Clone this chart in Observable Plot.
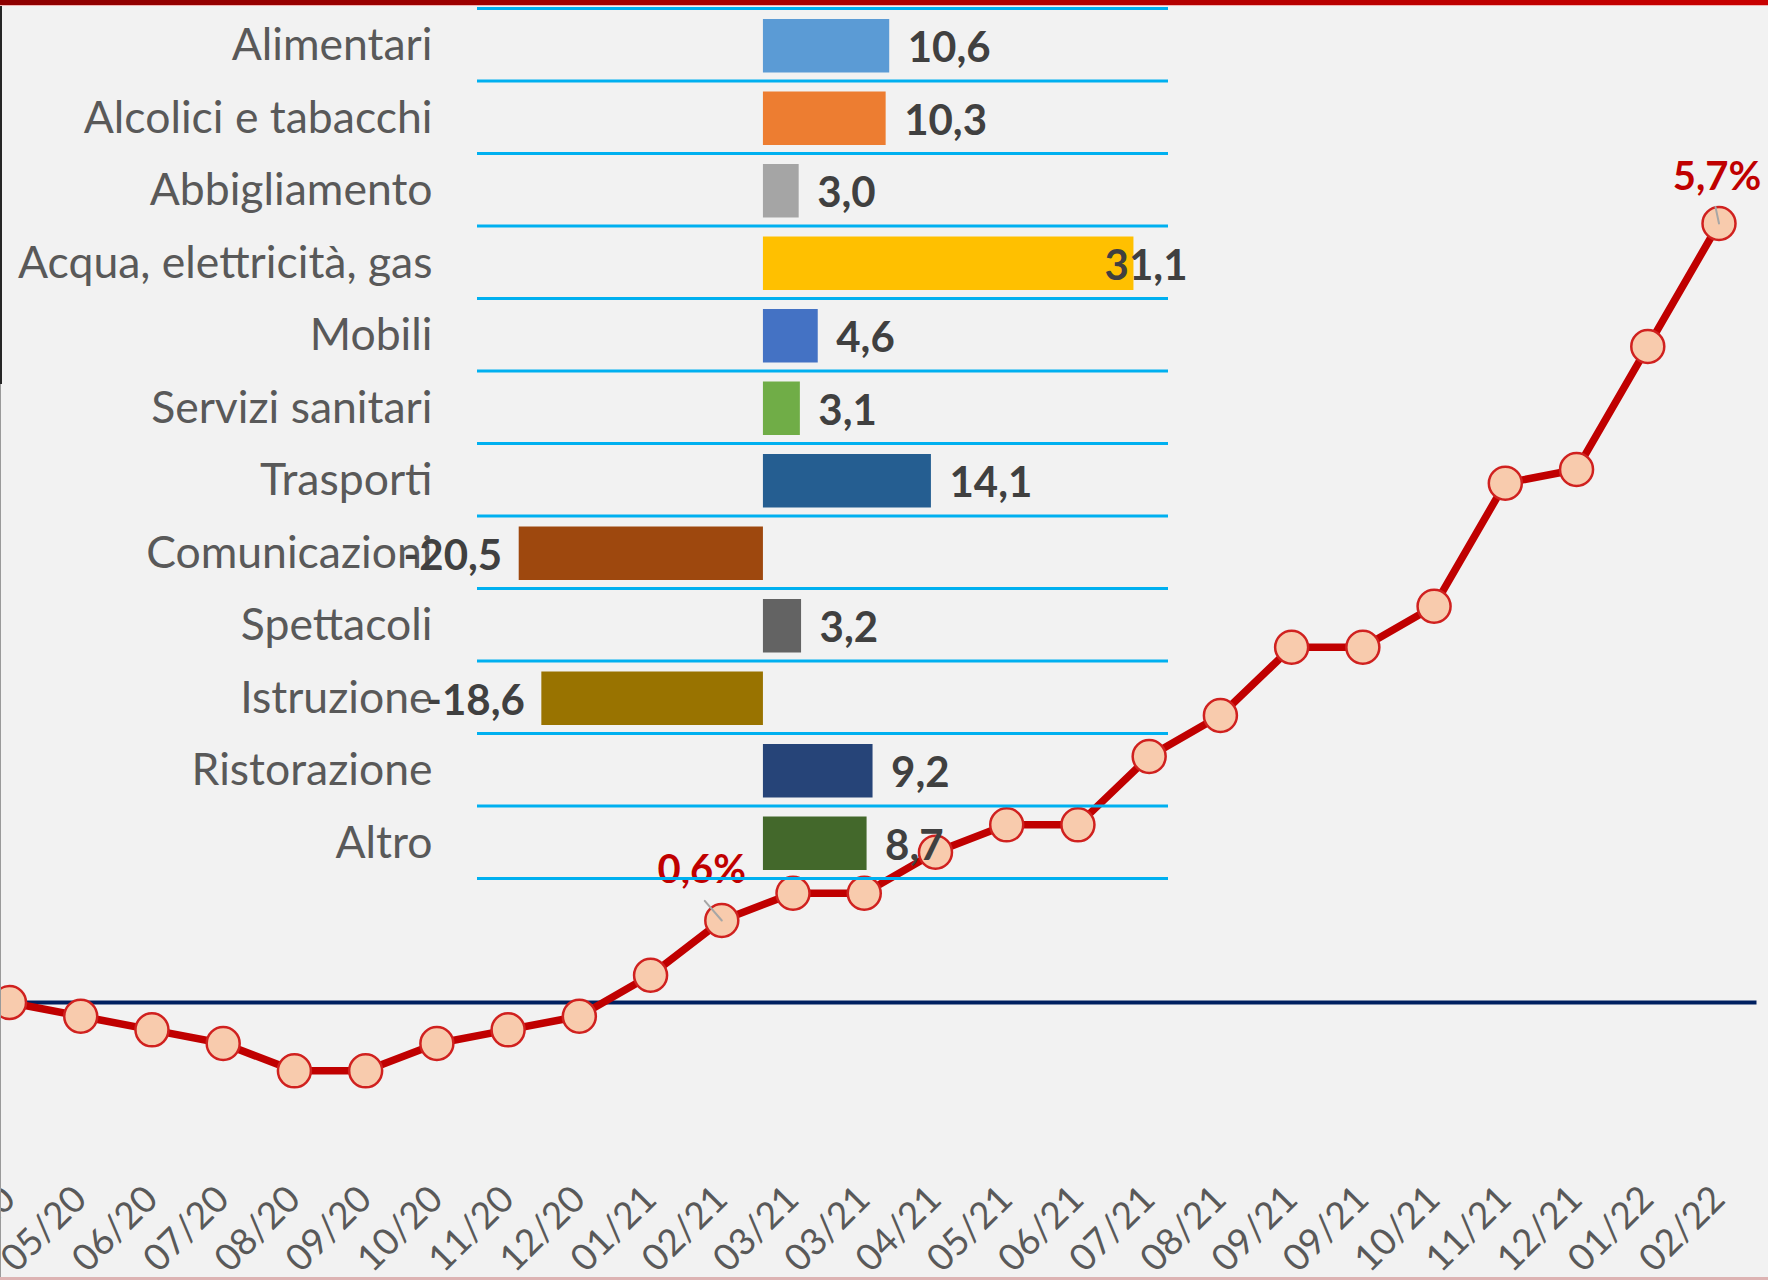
<!DOCTYPE html>
<html>
<head>
<meta charset="utf-8">
<script src="https://cdn.jsdelivr.net/npm/d3@7"></script>
<script src="https://cdn.jsdelivr.net/npm/@observablehq/plot@0.6"></script>
<style>
  html, body { margin: 0; padding: 0; background: #F2F2F2; }
  #wrap { position: relative; width: 1768px; height: 1280px; overflow: hidden; background: #F2F2F2; font-family: Lato, "Open Sans", sans-serif; }
  #lineChart, #barChart { position: absolute; left: 0; top: 0; }
  .topbar { position: absolute; left: 0; top: 0; width: 1768px; height: 5px; background: linear-gradient(to right, #8E0000, #C80000); border-bottom: 1px solid #F1B3B3; z-index: 5; }
  .leftdark { position: absolute; left: 0; top: 6px; width: 2px; height: 378px; background: #262626; z-index: 5; }
  .leftlight { position: absolute; left: 0; top: 384px; width: 1px; height: 896px; background: #9A9A9A; z-index: 5; }
  .bottomline { position: absolute; left: 0; bottom: 0; width: 1768px; height: 3px; background: #DDB3B3; z-index: 5; }
</style>
</head>
<body>
<div id="wrap">
  <div id="lineChart"></div>
  <div id="barChart"></div>
  <div class="topbar"></div>
  <div class="leftdark"></div>
  <div class="leftlight"></div>
  <div class="bottomline"></div>
</div>
<script>
// ---------- data ----------
const months = ["04/20","05/20","06/20","07/20","08/20","09/20","10/20","11/20","12/20",
                "01/21","02/21","03/21","03/21","04/21","05/21","06/21","07/21","08/21",
                "09/21","09/21","10/21","11/21","12/21","01/22","02/22"];
const inflation = [0.0,-0.1,-0.2,-0.3,-0.5,-0.5,-0.3,-0.2,-0.1,
                   0.2,0.6,0.8,0.8,1.1,1.3,1.3,1.8,2.1,
                   2.6,2.6,2.9,3.8,3.9,4.8,5.7];
const labelledMonthA = 10;   // index of "02/21" (0,6%)
const labelledMonthB = 24;   // index of "02/22" (5,7%)

const categories = ["Alimentari","Alcolici e tabacchi","Abbigliamento","Acqua, elettricità, gas",
                    "Mobili","Servizi sanitari","Trasporti","Comunicazioni","Spettacoli",
                    "Istruzione","Ristorazione","Altro"];
const changes = [10.6,10.3,3.0,31.1,4.6,3.1,14.1,-20.5,3.2,-18.6,9.2,8.7];
const barColors = ["#5B9BD5","#ED7D31","#A5A5A5","#FFC000","#4472C4","#70AD47",
                   "#255E91","#9E480E","#636363","#997300","#264478","#43682B"];

// ---------- helpers ----------
const fmt = v => v.toFixed(1).replace(".", ",");
const series = months.map((m, i) => ({i, m, v: inflation[i]}));
const bars = categories.map((c, i) => ({c, v: changes[i], color: barColors[i]}));
const FONT = "Lato, 'Open Sans', sans-serif";

const leader = {
  draw(context, l) { context.moveTo(0, 0); context.lineTo(0, -l); }
};

// ---------- line chart (full canvas) ----------
const lineChart = Plot.plot({
  width: 1768,
  height: 1280,
  marginLeft: 9,
  marginRight: 49.5,
  marginTop: 182,
  marginBottom: 141.3,
  x: {type: "linear", domain: [0, months.length - 1], axis: null},
  y: {domain: [-1, 6], axis: null},
  style: {background: "transparent", overflow: "visible", fontFamily: FONT},
  marks: [
    Plot.ruleY([0], {stroke: "#002060", strokeWidth: 4, insetLeft: -9, insetRight: -38}),
    Plot.line(series, {x: "i", y: "v", stroke: "#C00000", strokeWidth: 7.5, strokeLinejoin: "round"}),
    Plot.dot(series, {x: "i", y: "v", r: 16.5, fill: "#F8CBAD", stroke: "#D0211F", strokeWidth: 2.5}),
    Plot.vector([series[labelledMonthA]], {x: "i", y: "v", length: 26, rotate: -41, anchor: "start",
      shape: leader, stroke: "#A6A6A6", strokeWidth: 2}),
    Plot.vector([series[labelledMonthB]], {x: "i", y: "v", length: 17, rotate: -12, anchor: "start",
      shape: leader, stroke: "#A6A6A6", strokeWidth: 2}),
    Plot.text([series[labelledMonthA]], {x: "i", y: "v", text: d => fmt(d.v) + "%", dx: -20, dy: -50,
      fontSize: 40, fontWeight: "bold", fill: "#C00000"}),
    Plot.text([series[labelledMonthB]], {x: "i", y: "v", text: d => fmt(d.v) + "%", dx: -2, dy: -46,
      fontSize: 40, fontWeight: "bold", fill: "#C00000"}),
    Plot.text(series, {x: "i", text: "m", frameAnchor: "bottom", rotate: -45, textAnchor: "end",
      dx: 8, dy: 62, fontSize: 37, fill: "#595959"})
  ]
});
document.getElementById("lineChart").appendChild(lineChart);

// ---------- inset bar chart ----------
const barW = 1250, barH = 900, barTop = 8, barBottom = 22;
const bandH = (barH - barTop - barBottom) / categories.length;
const xMax = 34;
const clampNeeded = d => d.v > xMax - 6;

const barChart = Plot.plot({
  width: barW,
  height: barH,
  marginLeft: 477,
  marginRight: 82,
  marginTop: barTop,
  marginBottom: barBottom,
  x: {domain: [-24, xMax], axis: null},
  y: {domain: categories, padding: 0, round: false, axis: null},
  color: {type: "identity"},
  style: {background: "transparent", overflow: "visible", fontFamily: FONT},
  marks: [
    Plot.barX(bars, {x: "v", y: "c", fill: "color", insetTop: 11, insetBottom: 8}),
    Plot.ruleY(categories, {y: d => d, dy: -bandH / 2, stroke: "#00B0F0", strokeWidth: 3}),
    Plot.ruleY(categories.slice(-1), {y: d => d, dy: bandH / 2, stroke: "#00B0F0", strokeWidth: 3}),
    Plot.text(categories, {y: d => d, frameAnchor: "left", textAnchor: "end", dx: -45, dy: 1,
      fontSize: 44.5, fill: "#595959"}),
    Plot.text(bars.filter(d => d.v >= 0 && !clampNeeded(d)), {x: "v", y: "c", text: d => fmt(d.v),
      textAnchor: "start", dx: 18, dy: 4, fontSize: 42, fontWeight: "bold", fill: "#404040"}),
    Plot.text(bars.filter(d => d.v < 0), {x: "v", y: "c", text: d => fmt(d.v),
      textAnchor: "end", dx: -17, dy: 4, fontSize: 42, fontWeight: "bold", fill: "#404040"}),
    Plot.text(bars.filter(clampNeeded), {y: "c", text: d => fmt(d.v), frameAnchor: "right",
      textAnchor: "end", dx: 19, dy: 4, fontSize: 42, fontWeight: "bold", fill: "#404040"})
  ]
});
document.getElementById("barChart").appendChild(barChart);
</script>
</body>
</html>
